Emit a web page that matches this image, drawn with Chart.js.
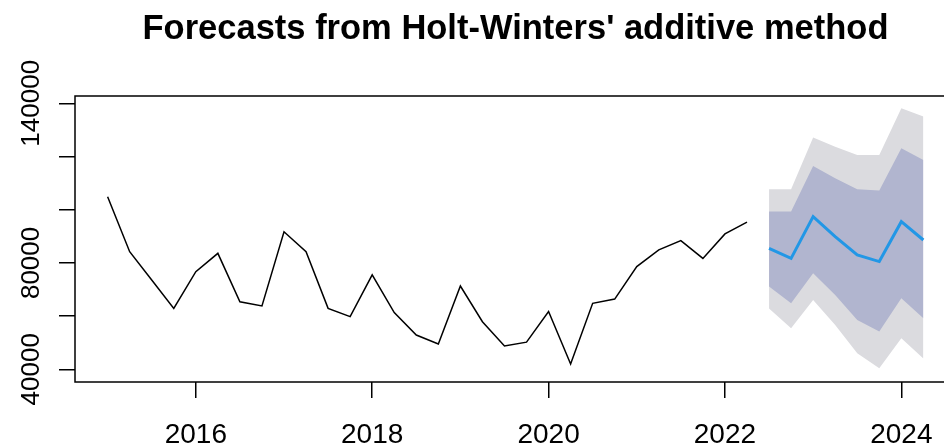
<!DOCTYPE html>
<html>
<head>
<meta charset="utf-8">
<script src="https://cdn.jsdelivr.net/npm/chart.js@4"></script>
<style>
  html, body { margin: 0; padding: 0; background: #fff; overflow: hidden; }
</style>
</head>
<body>
<canvas id="chart" width="980" height="448"></canvas>
<script>
// quarterly history
const histTimes = [2015.00, 2015.25, 2015.50, 2015.75, 2016.00, 2016.25, 2016.50, 2016.75,
                   2017.00, 2017.25, 2017.50, 2017.75, 2018.00, 2018.25, 2018.50, 2018.75,
                   2019.00, 2019.25, 2019.50, 2019.75, 2020.00, 2020.25, 2020.50, 2020.75,
                   2021.00, 2021.25, 2021.50, 2021.75, 2022.00, 2022.25];
const histValues = [104900, 84200, 73600, 62900, 76700, 83600, 65400, 63800,
                    91700, 84200, 62900, 59800, 75500, 61300, 52900, 49500,
                    71300, 57900, 48800, 50200, 61700, 42000, 64800, 66400,
                    78600, 84900, 88400, 81700, 90900, 95300];

// forecast + intervals
const fcTimes = [2022.50, 2022.75, 2023.00, 2023.25, 2023.50, 2023.75, 2024.00, 2024.25];
const fcMean = [85500, 81700, 97400, 89900, 83000, 80500, 95500, 88600];
const hi80 = [99300, 99300, 116400, 111800, 107700, 107200, 123100, 118700];
const lo80 = [71100, 64800, 76100, 67900, 58500, 54200, 66700, 59200];
const hi95 = [107700, 107700, 127100, 123700, 120600, 120600, 138100, 135000];
const lo95 = [62900, 55400, 66100, 56700, 46000, 40400, 51700, 44100];

const xTicks = [2016, 2018, 2020, 2022, 2024];
const yTicks = [40000, 60000, 80000, 100000, 120000, 140000];
const yLabelled = [40000, 80000, 140000];

const pts = (xs, ys) => xs.map((x, i) => ({ x: x, y: ys[i] }));

// R style box + rotated y labels
const rStyle = {
    id: "rStyle",
    afterDraw(chart) {
        const c = chart.ctx, a = chart.chartArea, y = chart.scales.y;
        c.save();
        c.strokeStyle = "#000";
        c.lineWidth = 1.5;
        c.strokeRect(a.left, a.top, a.right - a.left, a.bottom - a.top);
        c.fillStyle = "#000";
        c.font = "26px 'Liberation Sans', Arial, sans-serif";
        c.textAlign = "center";
        c.textBaseline = "middle";
        yLabelled.forEach(v => {
            c.save();
            c.translate(32, y.getPixelForValue(v));
            c.rotate(-Math.PI / 2);
            c.fillText(String(v), 0, 0);
            c.restore();
        });
        c.restore();
    }
};

const tickGrid = { display: true, drawOnChartArea: false, drawTicks: true, tickLength: 16, color: "#000", lineWidth: 1.5 };

new Chart(document.getElementById("chart").getContext("2d"), {
    type: "line",
    data: {
        datasets: [
            { data: pts(fcTimes, fcMean), borderColor: "#2297e6", borderWidth: 3, pointRadius: 0, fill: false, tension: 0 },
            { data: pts(histTimes, histValues), borderColor: "#000", borderWidth: 1.5, pointRadius: 0, fill: false, tension: 0 },
            { data: pts(fcTimes, hi80), borderWidth: 0, pointRadius: 0, backgroundColor: "#b1b5cf", fill: 3 },
            { data: pts(fcTimes, lo80), borderWidth: 0, pointRadius: 0, fill: false },
            { data: pts(fcTimes, hi95), borderWidth: 0, pointRadius: 0, backgroundColor: "#dbdbdf", fill: 5 },
            { data: pts(fcTimes, lo95), borderWidth: 0, pointRadius: 0, fill: false }
        ]
    },
    options: {
        responsive: false,
        animation: false,
        layout: { padding: { right: 24 } },
        plugins: {
            legend: { display: false },
            tooltip: { enabled: false },
            title: {
                display: true,
                fullSize: false,
                text: "Forecasts from Holt-Winters' additive method",
                color: "#000",
                font: { size: 34.5, weight: "bold", family: "'Liberation Sans', Arial, sans-serif" },
                padding: { top: 9, bottom: 45.6 }
            }
        },
        scales: {
            x: {
                type: "linear",
                min: 2014.63,
                max: 2024.62,
                afterBuildTicks: s => { s.ticks = xTicks.map(v => ({ value: v })); },
                afterFit: s => { s.height = 66; },
                ticks: {
                    color: "#000", padding: 20, maxRotation: 0,
                    font: { size: 28, family: "'Liberation Sans', Arial, sans-serif" },
                    callback: v => String(v)
                },
                grid: tickGrid,
                border: { display: false }
            },
            y: {
                min: 35230,
                max: 142740,
                afterBuildTicks: s => { s.ticks = yTicks.map(v => ({ value: v })); },
                afterFit: s => { s.width = 75; },
                ticks: { display: false },
                grid: tickGrid,
                border: { display: false }
            }
        }
    },
    plugins: [rStyle]
});
</script>
</body>
</html>
